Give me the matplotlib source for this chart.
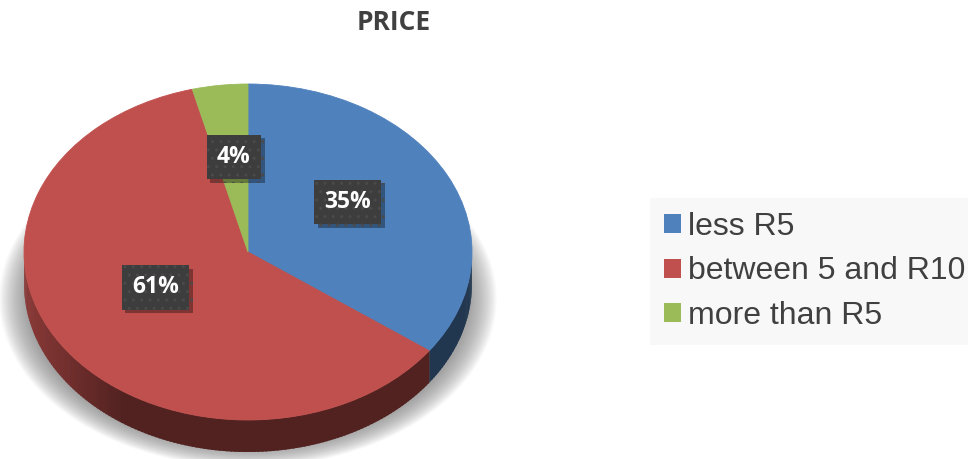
"""
3D-style pie of price bands, Excel look.
"""
import numpy as np
import matplotlib.pyplot as plt
from matplotlib.patches import Polygon, Ellipse, Patch
import matplotlib.patheffects as pe
from matplotlib.colors import to_rgb

# ── data ──────────────────────────────────────────────────────────────────────
labels = ["less R5", "between 5 and R10", "more than R5"]
shares = [35, 61, 4]
pct_labels = ["35%", "61%", "4%"]
top_colors = ["#4f81bd", "#c0504d", "#9bbb59"]
title = "PRICE"

W, H = 968, 459
TEXT = "#404040"

# pie geometry in pixels (centre, semi-axes, side depth)
CX, CY, RA, RB, DEPTH = 248, 252, 224, 168, 32

fig = plt.figure(figsize=(W / 100, H / 100), dpi=100)
ax = fig.add_axes([0, 0, 1, 1])

wedges, _ = ax.pie(shares, colors=top_colors, startangle=90, counterclock=False,
                   wedgeprops=dict(linewidth=0.6, zorder=3))
for w, c in zip(wedges, top_colors):
    w.set_edgecolor(c)

ax.set_aspect("auto")
ax.set_xlim(-CX / RA, (W - CX) / RA)
ax.set_ylim(-(H - CY) / RB, CY / RB)
ax.axis("off")

d = DEPTH / RB

# ── soft shadow under the disc ────────────────────────────────────────────────
for k in range(26):
    s = 1.0 - k * 0.005
    ax.add_patch(Ellipse((0, -0.28), 2 * 1.11 * s, 2 * 1.0 * s,
                         facecolor="#7a7a7a", edgecolor="none", alpha=0.045, zorder=0))

# ── side walls (front half only) ──────────────────────────────────────────────
step = 1.0
for w, col in zip(wedges, top_colors):
    rgb = np.array(to_rgb(col))
    a = w.theta1
    while a < w.theta2 - 1e-9:
        b = min(a + step, w.theta2)
        mid = np.radians((a + b) / 2)
        if np.sin(mid) < 0:
            x = np.cos(mid)
            f = 0.42 + 0.30 * np.clip((-x - 0.55) / 0.45, 0, 1)
            t0 = np.radians(a)
            t1 = np.radians(min(b + 0.6, w.theta2))   # slight overlap hides seams
            pts = [(np.cos(t0), np.sin(t0)), (np.cos(t1), np.sin(t1)),
                   (np.cos(t1), np.sin(t1) - d), (np.cos(t0), np.sin(t0) - d)]
            ax.add_patch(Polygon(pts, closed=True, facecolor=rgb * f,
                                 edgecolor="none", linewidth=0, zorder=2))
        a = b

# ── percentage labels ─────────────────────────────────────────────────────────
for w, txt in zip(wedges, pct_labels):
    mid = np.radians((w.theta1 + w.theta2) / 2)
    t = ax.text(0.5 * np.cos(mid), 0.5 * np.sin(mid) + 0.07, txt,
                ha="center", va="center", color="white", fontsize=16.5,
                fontweight="bold", family="Open Sans", zorder=5,
                bbox=dict(boxstyle="square,pad=0.45", facecolor="#3d3d3d",
                          edgecolor="#4a4a4a", linewidth=0, hatch=".."))
    t.get_bbox_patch().set_path_effects([
        pe.SimplePatchShadow(offset=(2.5, -2.5), shadow_rgbFace="#000000", alpha=0.35),
        pe.Normal()])

# ── title ─────────────────────────────────────────────────────────────────────
fig.text(394 / W, 1 - 23 / H, title, ha="center", va="center", color=TEXT,
         fontsize=19, fontweight="bold", family="Open Sans")

# ── legend ────────────────────────────────────────────────────────────────────
handles = [Patch(facecolor=c, edgecolor="none") for c in top_colors]
leg = fig.legend(handles, labels, loc="upper left",
                 bbox_to_anchor=(650 / W, 1 - 198 / H), borderaxespad=0,
                 frameon=True, fancybox=False, facecolor="#f8f8f8",
                 edgecolor="none", framealpha=1,
                 prop=dict(family="Liberation Sans", size=23), labelcolor=TEXT,
                 handlelength=0.53, handleheight=0.53, handletextpad=0.22,
                 borderpad=0.44, labelspacing=0.45)

fig.savefig("out.png", dpi=100, facecolor="white")
